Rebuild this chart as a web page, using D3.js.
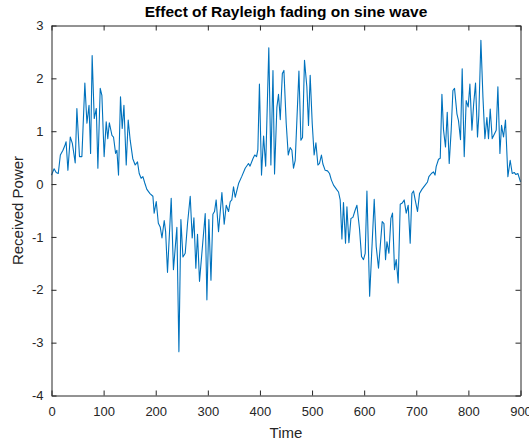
<!DOCTYPE html>
<html>
<head>
<meta charset="utf-8">
<script src="https://cdn.jsdelivr.net/npm/d3@7"></script>
<style>
  html, body { margin: 0; padding: 0; background: #fff; }
  svg { display: block; font-family: "Liberation Sans", Arial, Helvetica, sans-serif; }
</style>
</head>
<body>
<svg id="chart" width="529" height="446"></svg>
<script>
// ---- data ----
const times = [
  0, 5, 9, 13, 17, 22, 26, 28, 31.5, 36, 40, 45.5, 48.7, 53.7, 58.3, 64, 68, 72, 75, 78,
  82, 86, 89, 93.5, 96.7, 101, 105, 108, 111, 116, 119, 123, 125.5, 128.6, 132.4, 135.7, 139, 143.4, 147.2, 151,
  156, 160.6, 165, 168.3, 172, 175.4, 179, 183, 189, 194.6, 197, 201, 205, 208.6, 212, 216.3, 219, 222.6, 229.7, 234,
  240.6, 244.5, 248.3, 252.2, 256.6, 261, 266.2, 270, 273.3, 277, 280.2, 284, 295, 298.2, 302, 306, 309.7, 312.8, 316, 320.5,
  327, 331.4, 335.3, 339.7, 343, 346, 349.3, 352.5, 359, 365.4, 371.7, 378, 381, 386.5, 390, 393.5, 396, 399, 403, 407,
  411, 417, 421, 425, 428, 432.5, 435.6, 439, 443, 446, 450.4, 454.3, 458, 461.3, 464.4, 467.7, 474.8, 478.6, 481.7, 485.5,
  490, 493.2, 496.4, 500.3, 504, 507.4, 511.2, 514.3, 518, 520.8, 525.2, 529.7, 533.5, 537, 541.2, 547.7, 550.8, 554, 557.3, 560.3,
  564.2, 566.9, 570.7, 574.6, 578.4, 582.8, 586.1, 591, 594.9, 598.7, 602, 605.3, 610.5, 619.3, 623.1, 627.5, 630.8, 634.6, 638, 641,
  643.7, 647.5, 651.3, 654.4, 658.2, 661.5, 665.3, 669.2, 673, 676.8, 680.7, 684.5, 688.3, 691.6, 694.7, 697.9, 702.4, 706.2, 710.8, 717,
  721.5, 724.2, 729, 733, 736, 738.2, 742.7, 746, 749.2, 752.3, 756.1, 759.4, 763.2, 767, 770.3, 773.4, 778, 781, 784.9, 788.1,
  792, 795.8, 799.6, 802.9, 806.8, 810, 813.7, 817.5, 820, 824, 827.9, 831.7, 835.5, 838.6, 841.9, 845.7, 849, 853.4, 856.6, 860.5,
  863.6, 867.4, 871.2, 875.8, 880.2, 884.1, 888, 891, 895, 900
];
const power = [
  0.17, 0.29, 0.22, 0.20, 0.55, 0.64, 0.74, 0.80, 0.26, 0.89, 0.77, 0.40, 1.43, 0.52, 0.52, 1.91, 1.15, 1.49, 0.58, 2.43,
  1.24, 1.43, 0.30, 1.81, 1.68, 0.52, 1.18, 0.86, 1.16, 0.92, 0.89, 0.58, 0.64, 0.17, 1.65, 1.05, 1.49, 0.36, 1.21, 0.83,
  0.48, 0.36, 0.42, 0.20, 0.11, 0.14, 0.02, -0.10, -0.18, -0.23, -0.55, -0.33, -0.74, -0.81, -1.02, -0.69, -0.90, -1.67, -0.27, -1.62,
  -0.82, -3.17, -0.67, -1.38, -1.31, -0.75, -0.23, -1.02, -0.64, -1.59, -0.95, -1.84, -0.56, -2.19, -0.67, -1.82, -0.57, -0.52, -0.30, -0.90,
  -0.16, -0.76, -0.40, -0.52, -0.33, -0.30, -0.05, -0.25, 0.01, 0.15, 0.30, 0.39, 0.34, 0.48, 0.55, 0.52, 0.65, 1.89, 0.17, 0.91,
  0.34, 2.58, 0.36, 2.15, 0.19, 1.45, 1.70, 1.22, 2.09, 2.15, 1.15, 0.55, 0.69, 0.64, 0.30, 0.45, 2.14, 0.83, 0.88, 2.34,
  1.84, 1.11, 2.06, 1.15, 0.55, 0.78, 0.36, 0.39, 0.55, 0.38, 0.26, 0.25, 0.20, 0.08, -0.02, -0.11, -0.15, -0.30, -1.04, -0.35,
  -1.12, -0.43, -1.11, -0.65, -0.63, -0.49, -0.40, -0.84, -1.37, -1.43, -1.31, -0.13, -2.12, -0.29, -1.18, -1.59, -1.18, -0.71, -0.75, -1.43,
  -1.09, -1.31, -0.65, -0.55, -1.62, -1.43, -1.87, -0.38, -0.36, -0.30, -0.55, -0.40, -1.12, -0.18, -0.13, -0.30, -0.52, -0.18, -0.10, -0.02,
  0.04, 0.14, 0.20, 0.23, 0.17, 0.33, 0.47, 0.49, 1.70, 1.02, 0.70, 1.36, 0.39, 1.02, 1.77, 1.81, 1.33, 1.20, 0.84, 2.18,
  0.52, 1.58, 1.46, 1.89, 1.02, 1.50, 1.91, 0.89, 1.30, 2.72, 1.65, 0.86, 1.26, 0.86, 1.42, 0.86, 0.93, 1.02, 1.84, 0.58,
  1.11, 0.89, 1.21, 0.14, 0.45, 0.20, 0.22, 0.18, 0.20, 0.04
];
const xTicks = [0, 100, 200, 300, 400, 500, 600, 700, 800, 900];
const yTicks = [-4, -3, -2, -1, 0, 1, 2, 3];
const titleText = "Effect of Rayleigh fading on sine wave";
const xLabelText = "Time";
const yLabelText = "Received Power";

// ---- layout ----
const plotLeft = 51.5, plotRight = 520.5, plotTop = 25.5, plotBottom = 395.5;
const axisColor = "#262626";
const lineColor = "#0072BD";

const svg = d3.select("#chart");
const x = d3.scaleLinear().domain([0, 900]).range([plotLeft, plotRight]);
const y = d3.scaleLinear().domain([-4, 3]).range([plotBottom, plotTop]);
const fmt = d => String(d);

// data line
const pts = times.map((t, i) => [t, power[i]]);
svg.append("path")
  .datum(pts)
  .attr("fill", "none")
  .attr("stroke", lineColor)
  .attr("stroke-width", 1.1)
  .attr("stroke-linejoin", "round")
  .attr("d", d3.line().x(d => x(d[0])).y(d => y(d[1])));

function styleAxis(g) {
  g.select(".domain").attr("stroke", axisColor).attr("stroke-width", 1);
  g.selectAll(".tick line").attr("stroke", axisColor).attr("stroke-width", 1);
  g.selectAll(".tick text").attr("fill", axisColor).style("font-size", "13px")
    .style("font-family", '"Liberation Sans", Arial, Helvetica, sans-serif');
}

// bottom axis
svg.append("g").attr("transform", `translate(0,${plotBottom})`)
  .call(d3.axisBottom(x).tickValues(xTicks).tickFormat(fmt).tickSizeInner(-5).tickSizeOuter(0).tickPadding(11.5))
  .call(styleAxis);
// top axis (ticks only)
svg.append("g").attr("transform", `translate(0,${plotTop})`)
  .call(d3.axisTop(x).tickValues(xTicks).tickSizeInner(-5).tickSizeOuter(0).tickFormat(""))
  .call(styleAxis);
// left axis
svg.append("g").attr("transform", `translate(${plotLeft},0)`)
  .call(d3.axisLeft(y).tickValues(yTicks).tickFormat(fmt).tickSizeInner(-5).tickSizeOuter(0).tickPadding(8))
  .call(styleAxis);
// right axis (ticks only)
svg.append("g").attr("transform", `translate(${plotRight},0)`)
  .call(d3.axisRight(y).tickValues(yTicks).tickSizeInner(-5).tickSizeOuter(0).tickFormat(""))
  .call(styleAxis);

// title
svg.append("text")
  .attr("x", (plotLeft + plotRight) / 2).attr("y", 17)
  .attr("text-anchor", "middle")
  .attr("fill", "#000")
  .style("font-size", "15.5px").style("font-weight", "bold")
  .text(titleText);

// x label
svg.append("text")
  .attr("x", (plotLeft + plotRight) / 2).attr("y", 438)
  .attr("text-anchor", "middle")
  .attr("fill", axisColor)
  .style("font-size", "15px")
  .text(xLabelText);

// y label
svg.append("text")
  .attr("transform", `translate(23,${(plotTop + plotBottom) / 2}) rotate(-90)`)
  .attr("text-anchor", "middle")
  .attr("fill", axisColor)
  .style("font-size", "15px")
  .text(yLabelText);
</script>
</body>
</html>
